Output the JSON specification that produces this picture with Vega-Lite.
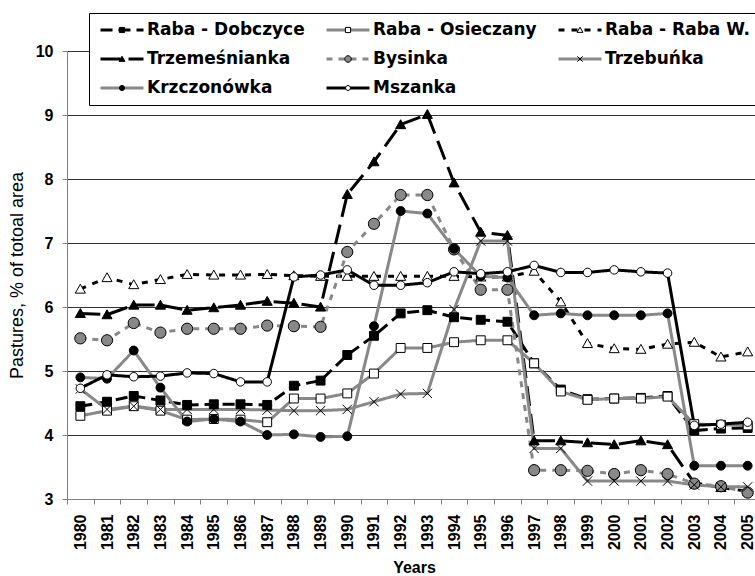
{
  "$schema": "https://vega.github.io/schema/vega-lite/v6.json",
  "width": 688,
  "height": 448,
  "autosize": {"type": "none"},
  "padding": {"left": 67, "top": 51, "right": 0, "bottom": 77},
  "background": "white",
  "config": {"view": {"stroke": null}, "font": "Liberation Sans"},
  "data": {"values": [
    {"year":1980,"series":"Raba - Dobczyce","value":4.45},{"year":1981,"series":"Raba - Dobczyce","value":4.52},{"year":1982,"series":"Raba - Dobczyce","value":4.61},{"year":1983,"series":"Raba - Dobczyce","value":4.54},{"year":1984,"series":"Raba - Dobczyce","value":4.47},{"year":1985,"series":"Raba - Dobczyce","value":4.48},{"year":1986,"series":"Raba - Dobczyce","value":4.48},{"year":1987,"series":"Raba - Dobczyce","value":4.47},{"year":1988,"series":"Raba - Dobczyce","value":4.77},{"year":1989,"series":"Raba - Dobczyce","value":4.85},{"year":1990,"series":"Raba - Dobczyce","value":5.25},{"year":1991,"series":"Raba - Dobczyce","value":5.55},{"year":1992,"series":"Raba - Dobczyce","value":5.90},{"year":1993,"series":"Raba - Dobczyce","value":5.95},{"year":1994,"series":"Raba - Dobczyce","value":5.84},{"year":1995,"series":"Raba - Dobczyce","value":5.80},{"year":1996,"series":"Raba - Dobczyce","value":5.77},{"year":1997,"series":"Raba - Dobczyce","value":5.12},{"year":1998,"series":"Raba - Dobczyce","value":4.71},{"year":1999,"series":"Raba - Dobczyce","value":4.56},{"year":2000,"series":"Raba - Dobczyce","value":4.57},{"year":2001,"series":"Raba - Dobczyce","value":4.58},{"year":2002,"series":"Raba - Dobczyce","value":4.61},{"year":2003,"series":"Raba - Dobczyce","value":4.07},{"year":2004,"series":"Raba - Dobczyce","value":4.10},{"year":2005,"series":"Raba - Dobczyce","value":4.11},
    {"year":1980,"series":"Raba - Osieczany","value":4.30},{"year":1981,"series":"Raba - Osieczany","value":4.38},{"year":1982,"series":"Raba - Osieczany","value":4.45},{"year":1983,"series":"Raba - Osieczany","value":4.38},{"year":1984,"series":"Raba - Osieczany","value":4.24},{"year":1985,"series":"Raba - Osieczany","value":4.25},{"year":1986,"series":"Raba - Osieczany","value":4.24},{"year":1987,"series":"Raba - Osieczany","value":4.20},{"year":1988,"series":"Raba - Osieczany","value":4.57},{"year":1989,"series":"Raba - Osieczany","value":4.57},{"year":1990,"series":"Raba - Osieczany","value":4.65},{"year":1991,"series":"Raba - Osieczany","value":4.96},{"year":1992,"series":"Raba - Osieczany","value":5.36},{"year":1993,"series":"Raba - Osieczany","value":5.36},{"year":1994,"series":"Raba - Osieczany","value":5.45},{"year":1995,"series":"Raba - Osieczany","value":5.48},{"year":1996,"series":"Raba - Osieczany","value":5.48},{"year":1997,"series":"Raba - Osieczany","value":5.12},{"year":1998,"series":"Raba - Osieczany","value":4.68},{"year":1999,"series":"Raba - Osieczany","value":4.55},{"year":2000,"series":"Raba - Osieczany","value":4.57},{"year":2001,"series":"Raba - Osieczany","value":4.57},{"year":2002,"series":"Raba - Osieczany","value":4.60},{"year":2003,"series":"Raba - Osieczany","value":4.17},{"year":2004,"series":"Raba - Osieczany","value":4.16},{"year":2005,"series":"Raba - Osieczany","value":4.15},
    {"year":1980,"series":"Raba - Raba W.","value":6.28},{"year":1981,"series":"Raba - Raba W.","value":6.46},{"year":1982,"series":"Raba - Raba W.","value":6.35},{"year":1983,"series":"Raba - Raba W.","value":6.43},{"year":1984,"series":"Raba - Raba W.","value":6.51},{"year":1985,"series":"Raba - Raba W.","value":6.50},{"year":1986,"series":"Raba - Raba W.","value":6.50},{"year":1987,"series":"Raba - Raba W.","value":6.51},{"year":1988,"series":"Raba - Raba W.","value":6.49},{"year":1989,"series":"Raba - Raba W.","value":6.48},{"year":1990,"series":"Raba - Raba W.","value":6.48},{"year":1991,"series":"Raba - Raba W.","value":6.48},{"year":1992,"series":"Raba - Raba W.","value":6.48},{"year":1993,"series":"Raba - Raba W.","value":6.48},{"year":1994,"series":"Raba - Raba W.","value":6.48},{"year":1995,"series":"Raba - Raba W.","value":6.47},{"year":1996,"series":"Raba - Raba W.","value":6.47},{"year":1997,"series":"Raba - Raba W.","value":6.56},{"year":1998,"series":"Raba - Raba W.","value":6.08},{"year":1999,"series":"Raba - Raba W.","value":5.43},{"year":2000,"series":"Raba - Raba W.","value":5.35},{"year":2001,"series":"Raba - Raba W.","value":5.34},{"year":2002,"series":"Raba - Raba W.","value":5.42},{"year":2003,"series":"Raba - Raba W.","value":5.45},{"year":2004,"series":"Raba - Raba W.","value":5.22},{"year":2005,"series":"Raba - Raba W.","value":5.30},
    {"year":1980,"series":"Trzemeśnianka","value":5.90},{"year":1981,"series":"Trzemeśnianka","value":5.88},{"year":1982,"series":"Trzemeśnianka","value":6.03},{"year":1983,"series":"Trzemeśnianka","value":6.03},{"year":1984,"series":"Trzemeśnianka","value":5.95},{"year":1985,"series":"Trzemeśnianka","value":5.99},{"year":1986,"series":"Trzemeśnianka","value":6.03},{"year":1987,"series":"Trzemeśnianka","value":6.09},{"year":1988,"series":"Trzemeśnianka","value":6.06},{"year":1989,"series":"Trzemeśnianka","value":6.00},{"year":1990,"series":"Trzemeśnianka","value":7.76},{"year":1991,"series":"Trzemeśnianka","value":8.27},{"year":1992,"series":"Trzemeśnianka","value":8.85},{"year":1993,"series":"Trzemeśnianka","value":9.01},{"year":1994,"series":"Trzemeśnianka","value":7.94},{"year":1995,"series":"Trzemeśnianka","value":7.17},{"year":1996,"series":"Trzemeśnianka","value":7.12},{"year":1997,"series":"Trzemeśnianka","value":3.91},{"year":1998,"series":"Trzemeśnianka","value":3.91},{"year":1999,"series":"Trzemeśnianka","value":3.88},{"year":2000,"series":"Trzemeśnianka","value":3.85},{"year":2001,"series":"Trzemeśnianka","value":3.91},{"year":2002,"series":"Trzemeśnianka","value":3.85},{"year":2003,"series":"Trzemeśnianka","value":3.25},{"year":2004,"series":"Trzemeśnianka","value":3.18},{"year":2005,"series":"Trzemeśnianka","value":3.12},
    {"year":1980,"series":"Bysinka","value":5.51},{"year":1981,"series":"Bysinka","value":5.48},{"year":1982,"series":"Bysinka","value":5.75},{"year":1983,"series":"Bysinka","value":5.60},{"year":1984,"series":"Bysinka","value":5.66},{"year":1985,"series":"Bysinka","value":5.66},{"year":1986,"series":"Bysinka","value":5.66},{"year":1987,"series":"Bysinka","value":5.71},{"year":1988,"series":"Bysinka","value":5.70},{"year":1989,"series":"Bysinka","value":5.69},{"year":1990,"series":"Bysinka","value":6.86},{"year":1991,"series":"Bysinka","value":7.30},{"year":1992,"series":"Bysinka","value":7.75},{"year":1993,"series":"Bysinka","value":7.75},{"year":1994,"series":"Bysinka","value":6.90},{"year":1995,"series":"Bysinka","value":6.27},{"year":1996,"series":"Bysinka","value":6.27},{"year":1997,"series":"Bysinka","value":3.45},{"year":1998,"series":"Bysinka","value":3.45},{"year":1999,"series":"Bysinka","value":3.44},{"year":2000,"series":"Bysinka","value":3.39},{"year":2001,"series":"Bysinka","value":3.45},{"year":2002,"series":"Bysinka","value":3.39},{"year":2003,"series":"Bysinka","value":3.24},{"year":2004,"series":"Bysinka","value":3.20},{"year":2005,"series":"Bysinka","value":3.10},
    {"year":1980,"series":"Trzebuńka","value":4.72},{"year":1981,"series":"Trzebuńka","value":4.40},{"year":1982,"series":"Trzebuńka","value":4.45},{"year":1983,"series":"Trzebuńka","value":4.40},{"year":1984,"series":"Trzebuńka","value":4.40},{"year":1985,"series":"Trzebuńka","value":4.40},{"year":1986,"series":"Trzebuńka","value":4.40},{"year":1987,"series":"Trzebuńka","value":4.39},{"year":1988,"series":"Trzebuńka","value":4.38},{"year":1989,"series":"Trzebuńka","value":4.38},{"year":1990,"series":"Trzebuńka","value":4.40},{"year":1991,"series":"Trzebuńka","value":4.52},{"year":1992,"series":"Trzebuńka","value":4.64},{"year":1993,"series":"Trzebuńka","value":4.65},{"year":1994,"series":"Trzebuńka","value":5.96},{"year":1995,"series":"Trzebuńka","value":7.03},{"year":1996,"series":"Trzebuńka","value":7.03},{"year":1997,"series":"Trzebuńka","value":3.79},{"year":1998,"series":"Trzebuńka","value":3.79},{"year":1999,"series":"Trzebuńka","value":3.28},{"year":2000,"series":"Trzebuńka","value":3.28},{"year":2001,"series":"Trzebuńka","value":3.28},{"year":2002,"series":"Trzebuńka","value":3.28},{"year":2003,"series":"Trzebuńka","value":3.22},{"year":2004,"series":"Trzebuńka","value":3.19},{"year":2005,"series":"Trzebuńka","value":3.19},
    {"year":1980,"series":"Krzczonówka","value":4.90},{"year":1981,"series":"Krzczonówka","value":4.88},{"year":1982,"series":"Krzczonówka","value":5.32},{"year":1983,"series":"Krzczonówka","value":4.74},{"year":1984,"series":"Krzczonówka","value":4.21},{"year":1985,"series":"Krzczonówka","value":4.25},{"year":1986,"series":"Krzczonówka","value":4.21},{"year":1987,"series":"Krzczonówka","value":4.00},{"year":1988,"series":"Krzczonówka","value":4.01},{"year":1989,"series":"Krzczonówka","value":3.97},{"year":1990,"series":"Krzczonówka","value":3.98},{"year":1991,"series":"Krzczonówka","value":5.70},{"year":1992,"series":"Krzczonówka","value":7.50},{"year":1993,"series":"Krzczonówka","value":7.46},{"year":1994,"series":"Krzczonówka","value":6.91},{"year":1995,"series":"Krzczonówka","value":6.48},{"year":1996,"series":"Krzczonówka","value":6.46},{"year":1997,"series":"Krzczonówka","value":5.87},{"year":1998,"series":"Krzczonówka","value":5.90},{"year":1999,"series":"Krzczonówka","value":5.87},{"year":2000,"series":"Krzczonówka","value":5.87},{"year":2001,"series":"Krzczonówka","value":5.87},{"year":2002,"series":"Krzczonówka","value":5.90},{"year":2003,"series":"Krzczonówka","value":3.52},{"year":2004,"series":"Krzczonówka","value":3.52},{"year":2005,"series":"Krzczonówka","value":3.52},
    {"year":1980,"series":"Mszanka","value":4.73},{"year":1981,"series":"Mszanka","value":4.94},{"year":1982,"series":"Mszanka","value":4.91},{"year":1983,"series":"Mszanka","value":4.92},{"year":1984,"series":"Mszanka","value":4.97},{"year":1985,"series":"Mszanka","value":4.96},{"year":1986,"series":"Mszanka","value":4.83},{"year":1987,"series":"Mszanka","value":4.83},{"year":1988,"series":"Mszanka","value":6.47},{"year":1989,"series":"Mszanka","value":6.50},{"year":1990,"series":"Mszanka","value":6.58},{"year":1991,"series":"Mszanka","value":6.34},{"year":1992,"series":"Mszanka","value":6.34},{"year":1993,"series":"Mszanka","value":6.38},{"year":1994,"series":"Mszanka","value":6.55},{"year":1995,"series":"Mszanka","value":6.52},{"year":1996,"series":"Mszanka","value":6.55},{"year":1997,"series":"Mszanka","value":6.65},{"year":1998,"series":"Mszanka","value":6.54},{"year":1999,"series":"Mszanka","value":6.54},{"year":2000,"series":"Mszanka","value":6.58},{"year":2001,"series":"Mszanka","value":6.55},{"year":2002,"series":"Mszanka","value":6.53},{"year":2003,"series":"Mszanka","value":4.15},{"year":2004,"series":"Mszanka","value":4.17},{"year":2005,"series":"Mszanka","value":4.20}
  ]},
  "encoding": {
    "x": {
      "field": "year", "type": "ordinal", "bandPosition": 0.5,
      "scale": {"type": "band", "paddingInner": 0, "paddingOuter": 0, "range": [0, 694]},
      "axis": {
        "title": "Years", "labelAngle": -90, "labelFontWeight": "bold", "labelFontSize": 16, "labelColor": "black",
        "labelPadding": 10, "tickBand": "extent", "tickSize": 5, "tickColor": "#808080", "domainColor": "#808080",
        "titleFontSize": 16, "titleFontWeight": "bold", "titleColor": "black", "titlePadding": 10, "grid": false, "labelFlush": false, "labelOverlap": false
      }
    },
    "y": {
      "field": "value", "type": "quantitative",
      "scale": {"domain": [3, 10], "nice": false, "zero": false},
      "axis": {
        "title": "Pastures, % of totoal area", "values": [3, 4, 5, 6, 7, 8, 9, 10],
        "labelFontWeight": "bold", "labelFontSize": 16, "labelColor": "black", "labelPadding": 9,
        "tickSize": 5, "tickColor": "#808080", "domainColor": "#808080",
        "gridColor": "#333333", "gridWidth": 1, "gridOpacity": 1,
        "titleFontWeight": "normal", "titleFontSize": 18, "titleColor": "black", "titlePadding": 9
      }
    }
  },
  "layer": [
    {
      "mark": {"type": "line", "strokeCap": "butt"},
      "encoding": {
        "color": {
          "field": "series", "type": "nominal",
          "scale": {"domain": ["Raba - Dobczyce","Raba - Osieczany","Raba - Raba W.","Trzemeśnianka","Bysinka","Trzebuńka","Krzczonówka","Mszanka"],
                    "range": ["#000000","#888888","#000000","#000000","#888888","#888888","#888888","#000000"]},
          "legend": {"orient": "none", "legendX": 22, "legendY": -38, "direction": "horizontal", "columns": 3, "title": null, "symbolType": "stroke", "symbolSize": 1849,
                     "symbolStrokeWidth": {"expr": "scale('strokeWidth', datum.value)"},
                     "labelFont": "DejaVu Sans", "labelFontSize": 17, "labelFontWeight": "bold", "labelColor": "black", "labelOffset": 2, "labelLimit": 300,
                     "symbolOffset": 2, "clipHeight": 18, "columnPadding": 18, "rowPadding": 11, "padding": 8, "strokeColor": "black", "fillColor": "white",
                     "encode": {"symbols": {"update": {"strokeWidth": {"value": {"expr": "scale('strokeWidth', datum.value)"}}}}}}
        },
        "strokeDash": {
          "field": "series", "type": "nominal",
          "scale": {"domain": ["Raba - Dobczyce","Raba - Osieczany","Raba - Raba W.","Trzemeśnianka","Bysinka","Trzebuńka","Krzczonówka","Mszanka"],
                    "range": [[12, 6], [1, 0], [6, 7], [20, 8], [6, 6], [1, 0], [1, 0], [1, 0]]},
          "legend": {"orient": "none", "legendX": 22, "legendY": -38, "direction": "horizontal", "columns": 3, "title": null, "symbolType": "stroke", "symbolSize": 1849,
                     "symbolStrokeWidth": {"expr": "scale('strokeWidth', datum.value)"},
                     "labelFont": "DejaVu Sans", "labelFontSize": 17, "labelFontWeight": "bold", "labelColor": "black", "labelOffset": 2, "labelLimit": 300,
                     "symbolOffset": 2, "clipHeight": 18, "columnPadding": 18, "rowPadding": 11, "padding": 8, "strokeColor": "black", "fillColor": "white",
                     "encode": {"symbols": {"update": {"strokeWidth": {"value": {"expr": "scale('strokeWidth', datum.value)"}}}}}}
        },
        "strokeWidth": {
          "field": "series", "type": "nominal",
          "scale": {"domain": ["Raba - Dobczyce","Raba - Osieczany","Raba - Raba W.","Trzemeśnianka","Bysinka","Trzebuńka","Krzczonówka","Mszanka"],
                    "range": [3, 3, 3, 3, 3, 3, 1, 1]},
          "legend": {"orient": "none", "legendX": 22, "legendY": -38, "direction": "horizontal", "columns": 3, "title": null, "symbolType": "stroke", "symbolSize": 1849,
                     "symbolStrokeWidth": {"expr": "scale('strokeWidth', datum.value)"},
                     "labelFont": "DejaVu Sans", "labelFontSize": 17, "labelFontWeight": "bold", "labelColor": "black", "labelOffset": 2, "labelLimit": 300,
                     "symbolOffset": 2, "clipHeight": 18, "columnPadding": 18, "rowPadding": 11, "padding": 8, "strokeColor": "black", "fillColor": "white",
                     "encode": {"symbols": {"update": {"strokeWidth": {"value": {"expr": "scale('strokeWidth', datum.value)"}}}}}}
        }
      }
    },
    {
      "mark": {"type": "point", "size": 6000, "stroke": "black", "strokeWidth": 1, "opacity": 1},
      "encoding": {
        "shape": {
          "field": "series", "type": "nominal",
          "sort": ["Raba - Dobczyce","Raba - Osieczany","Raba - Raba W.","Trzemeśnianka","Bysinka","Trzebuńka","Krzczonówka","Mszanka"],
          "scale": {"range": [
            "M-0.115,-0.115H0.115V0.115H-0.115Z",
            "M-0.115,-0.115H0.115V0.115H-0.115Z",
            "M0,-0.125L0.13,0.105L-0.13,0.105Z",
            "M0,-0.125L0.13,0.105L-0.13,0.105Z",
            "M-0.145,0A0.145,0.145,0,1,0,0.145,0A0.145,0.145,0,1,0,-0.145,0Z",
            "M-0.12,-0.12L0.12,0.12M-0.12,0.12L0.12,-0.12",
            "M-0.115,0A0.115,0.115,0,1,0,0.115,0A0.115,0.115,0,1,0,-0.115,0Z",
            "M-0.11,0A0.11,0.11,0,1,0,0.11,0A0.11,0.11,0,1,0,-0.11,0Z"
          ]},
          "legend": {"orient": "none", "legendX": 22, "legendY": -38, "direction": "horizontal", "columns": 3, "title": null, "symbolSize": 2025,
                     "symbolStrokeColor": "black", "symbolStrokeWidth": 1, "symbolOpacity": 1,
                     "symbolFillColor": {"expr": "scale('fill', datum.value)"},
                     "labelFont": "DejaVu Sans", "labelFontSize": 17, "labelFontWeight": "bold", "labelOpacity": 0, "labelOffset": 2, "labelLimit": 300,
                     "symbolOffset": 2, "clipHeight": 18, "columnPadding": 18, "rowPadding": 11, "padding": 8}
        },
        "fill": {
          "field": "series", "type": "nominal",
          "sort": ["Raba - Dobczyce","Raba - Osieczany","Raba - Raba W.","Trzemeśnianka","Bysinka","Trzebuńka","Krzczonówka","Mszanka"],
          "scale": {"range": ["#000000","#ffffff","#ffffff","#000000","#888888","transparent","#000000","#ffffff"]},
          "legend": null
        }
      }
    }
  ]
}
